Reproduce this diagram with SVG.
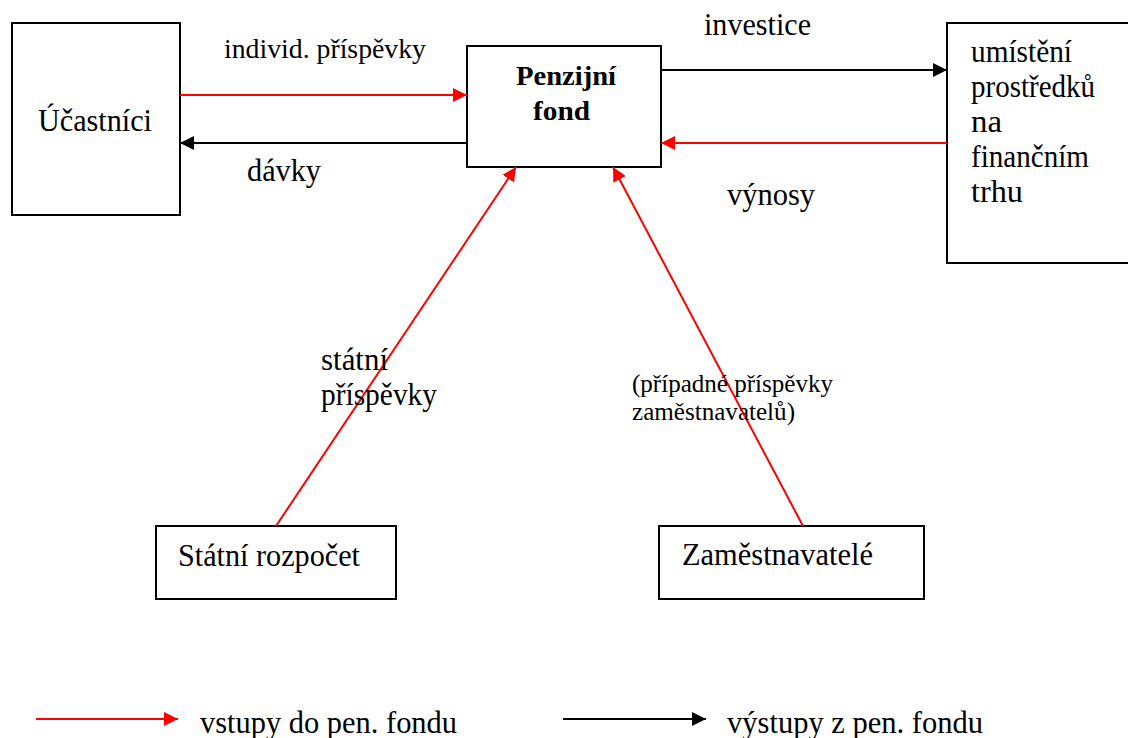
<svg xmlns="http://www.w3.org/2000/svg" width="1128" height="738" viewBox="0 0 1128 738">
<defs>
<marker id="ar" viewBox="0 0 10 10" refX="10" refY="5" markerWidth="7" markerHeight="7" markerUnits="strokeWidth" orient="auto"><path d="M0,0L10,5L0,10z" fill="#f00"/></marker>
<marker id="ab" viewBox="0 0 10 10" refX="10" refY="5" markerWidth="7" markerHeight="7" markerUnits="strokeWidth" orient="auto"><path d="M0,0L10,5L0,10z" fill="#000"/></marker>
</defs>
<rect width="1128" height="738" fill="#fff"/>
<g id="ucastnici"><rect fill="#fff" stroke="#000" stroke-width="2" x="12" y="23" width="168" height="192"/><text font-family="Liberation Serif" font-size="32" x="38" y="131" textLength="114" lengthAdjust="spacingAndGlyphs">Účastníci</text></g>
<g id="fond"><rect fill="#fff" stroke="#000" stroke-width="2" x="467" y="46" width="194" height="121"/><text font-family="Liberation Serif" x="516" y="85" font-size="28" font-weight="bold" textLength="100" lengthAdjust="spacingAndGlyphs">Penzijní</text><text font-family="Liberation Serif" x="533" y="120" font-size="28" font-weight="bold" textLength="57" lengthAdjust="spacingAndGlyphs">fond</text></g>
<g id="trh"><rect fill="#fff" stroke="#000" stroke-width="2" x="947" y="23" width="190" height="240"/>
<text font-family="Liberation Serif" font-size="32" x="971" y="62" textLength="101" lengthAdjust="spacingAndGlyphs">umístění</text>
<text font-family="Liberation Serif" font-size="32" x="971" y="97" textLength="124" lengthAdjust="spacingAndGlyphs">prostředků</text>
<text font-family="Liberation Serif" font-size="32" x="971" y="132" textLength="31" lengthAdjust="spacingAndGlyphs">na</text>
<text font-family="Liberation Serif" font-size="32" x="971" y="167" textLength="118" lengthAdjust="spacingAndGlyphs">finančním</text>
<text font-family="Liberation Serif" font-size="32" x="971" y="202" textLength="52" lengthAdjust="spacingAndGlyphs">trhu</text></g>
<g id="rozpocet"><rect fill="#fff" stroke="#000" stroke-width="2" x="156" y="526" width="240" height="73"/><text font-family="Liberation Serif" font-size="32" x="178" y="566" textLength="182" lengthAdjust="spacingAndGlyphs">Státní rozpočet</text></g>
<g id="zamestnavatele"><rect fill="#fff" stroke="#000" stroke-width="2" x="659" y="526" width="265" height="73"/><text font-family="Liberation Serif" font-size="32" x="682" y="565" textLength="191" lengthAdjust="spacingAndGlyphs">Zaměstnavatelé</text></g>
<g id="connectors" stroke-width="2" fill="none">
<line stroke="#f00" x1="180" y1="95" x2="467" y2="95" marker-end="url(#ar)"/>
<line stroke="#000" x1="467" y1="143" x2="180" y2="143" marker-end="url(#ab)"/>
<line stroke="#000" x1="661" y1="70" x2="947" y2="70" marker-end="url(#ab)"/>
<line stroke="#f00" x1="947" y1="143" x2="661" y2="143" marker-end="url(#ar)"/>
<line stroke="#f00" x1="276" y1="526" x2="516" y2="167" marker-end="url(#ar)"/>
<line stroke="#f00" x1="803" y1="526" x2="613" y2="167" marker-end="url(#ar)"/>
</g>
<g id="labels">
<text font-family="Liberation Serif" x="224" y="58" font-size="28" textLength="202" lengthAdjust="spacingAndGlyphs">individ. příspěvky</text>
<text font-family="Liberation Serif" font-size="32" x="247" y="181" textLength="74" lengthAdjust="spacingAndGlyphs">dávky</text>
<text font-family="Liberation Serif" font-size="32" x="704" y="35" textLength="107" lengthAdjust="spacingAndGlyphs">investice</text>
<text font-family="Liberation Serif" font-size="32" x="727" y="205" textLength="88" lengthAdjust="spacingAndGlyphs">výnosy</text>
<text font-family="Liberation Serif" font-size="32" x="321" y="370" textLength="67" lengthAdjust="spacingAndGlyphs">státní</text>
<text font-family="Liberation Serif" font-size="32" x="321" y="405" textLength="116" lengthAdjust="spacingAndGlyphs">příspěvky</text>
<text font-family="Liberation Serif" x="632" y="392" font-size="25" textLength="201" lengthAdjust="spacingAndGlyphs">(případné příspěvky</text>
<text font-family="Liberation Serif" x="632" y="420" font-size="25" textLength="163" lengthAdjust="spacingAndGlyphs">zaměstnavatelů)</text>
</g>
<g id="legend">
<line stroke="#f00" stroke-width="2" x1="36" y1="719" x2="178" y2="719" marker-end="url(#ar)"/>
<text font-family="Liberation Serif" font-size="32" x="200" y="733" textLength="257" lengthAdjust="spacingAndGlyphs">vstupy do pen. fondu</text>
<line stroke="#000" stroke-width="2" x1="563" y1="719" x2="706" y2="719" marker-end="url(#ab)"/>
<text font-family="Liberation Serif" font-size="32" x="727" y="733" textLength="256" lengthAdjust="spacingAndGlyphs">výstupy z pen. fondu</text>
</g>
</svg>
